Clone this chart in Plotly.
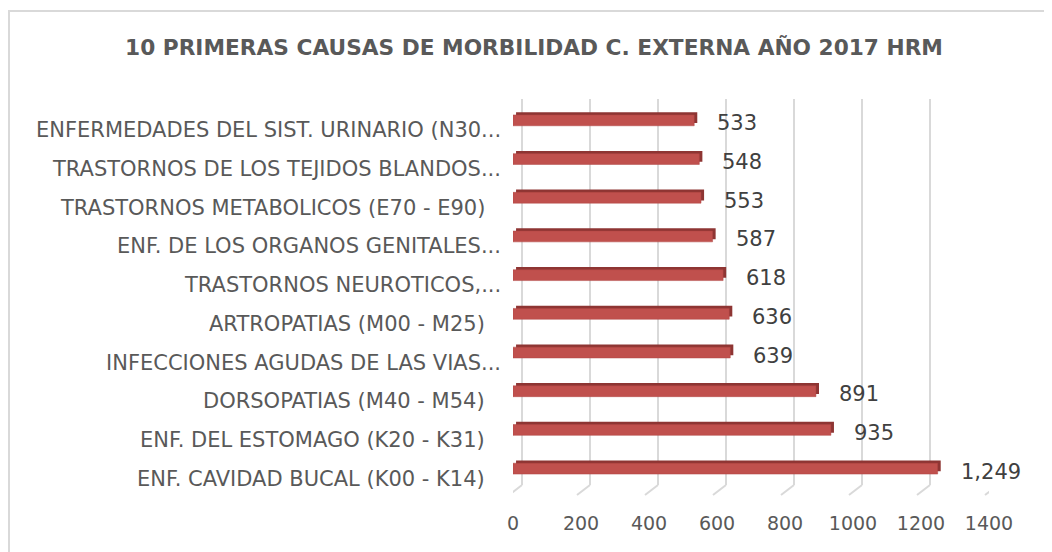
import plotly.graph_objects as go

categories = [
    "ENF. CAVIDAD BUCAL (K00 - K14)",
    "ENF. DEL ESTOMAGO (K20 - K31)",
    "DORSOPATIAS (M40 - M54)",
    "INFECCIONES AGUDAS DE LAS VIAS...",
    "ARTROPATIAS (M00 - M25)",
    "TRASTORNOS NEUROTICOS,...",
    "ENF. DE LOS ORGANOS GENITALES...",
    "TRASTORNOS METABOLICOS (E70 - E90)",
    "TRASTORNOS DE LOS TEJIDOS BLANDOS...",
    "ENFERMEDADES DEL SIST. URINARIO (N30...",
]
values = [1249, 935, 891, 639, 636, 618, 587, 553, 548, 533]
tick_vals = [0, 200, 400, 600, 800, 1000, 1200, 1400]

FONT = "DejaVu Sans"
GREY = "#595959"
OFF = 8  # page body margin
W, H = 1052, 552
L, T = 513 - OFF, 101 - OFF
PW = 476
PH = 387
R = W - L - PW
B = H - T - PH

fig = go.Figure()
# back / top / side face of the 3D bar
fig.add_trace(go.Bar(
    y=categories, x=values, base=[9] * len(values), orientation="h",
    width=0.28, offset=-0.14 + 0.07,
    marker=dict(color="#8E3533", line=dict(width=0)),
    hoverinfo="skip",
))
# front face
fig.add_trace(go.Bar(
    y=categories, x=values, orientation="h",
    width=0.28, offset=-0.14,
    marker=dict(color="#C0504D", line=dict(color="#B04644", width=0.5)),
    hoverinfo="x+y",
))

annotations = []
for c, v in zip(categories, values):
    annotations.append(dict(x=v, y=c, text=f"{v:,}", showarrow=False,
                            xanchor="left", xshift=21, yshift=-3,
                            font=dict(family=FONT, size=21, color="#404040")))
    truncated = c.endswith("...")
    annotations.append(dict(x=0, xref="paper", y=c, text=c, showarrow=False,
                            xanchor="right", xshift=-10 if truncated else -26, yshift=-10,
                            font=dict(family=FONT, size=21, color=GREY)))

shapes = []
for t in tick_vals:
    shapes.append(dict(type="line", layer="below", xref="x", xsizemode="pixel", xanchor=t,
                       x0=9, x1=9, yref="paper", ysizemode="pixel", yanchor=0,
                       y0=3, y1=PH + 2, line=dict(color="#D9D9D9", width=2)))
    shapes.append(dict(type="line", layer="below", xref="x", xsizemode="pixel", xanchor=t,
                       x0=9, x1=-4, yref="paper", ysizemode="pixel", yanchor=0,
                       y0=3, y1=-7, line=dict(color="#D9D9D9", width=2)))
# outer chart border (left and top edges visible)
shapes.append(dict(type="rect", xref="paper", xsizemode="pixel", xanchor=0,
                   x0=(8 - OFF) - L + 1, x1=W + 10 - L, yref="paper", ysizemode="pixel", yanchor=0,
                   y0=-(B + 10), y1=PH + T - (11 - OFF),
                   line=dict(color="#D9D9D9", width=2)))

fig.update_layout(
    width=W, height=H,
    paper_bgcolor="white", plot_bgcolor="white",
    margin=dict(l=L, r=R, t=T, b=B),
    showlegend=False, barmode="overlay",
    title=dict(text="<b>10 PRIMERAS CAUSAS DE MORBILIDAD C. EXTERNA AÑO 2017 HRM</b>",
               x=(534 - OFF) / W, xanchor="center", y=1 - (47 - OFF) / H, yanchor="middle",
               font=dict(family=FONT, size=21.7, color=GREY)),
    xaxis=dict(range=[0, 1400], tickvals=tick_vals, ticktext=[str(t) for t in tick_vals],
               showgrid=False, zeroline=False, showline=False, ticks="",
               ticklabelstandoff=22,
               tickfont=dict(family=FONT, size=19, color=GREY), fixedrange=True),
    yaxis=dict(categoryorder="array", categoryarray=categories, range=[-0.5, 9.5],
               showgrid=False, zeroline=False, showline=False, ticks="",
               showticklabels=False, fixedrange=True),
    annotations=annotations,
    shapes=shapes,
)

fig.write_html("out.html")
